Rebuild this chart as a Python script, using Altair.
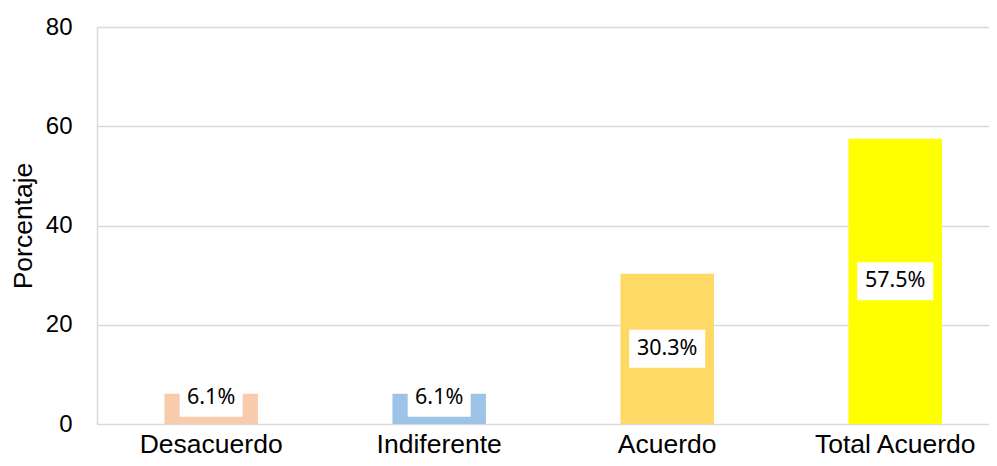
import altair as alt
import pandas as pd

categories = ["Desacuerdo", "Indiferente", "Acuerdo", "Total Acuerdo"]
values = [6.1, 6.1, 30.3, 57.5]
labels = ["6.1%", "6.1%", "30.3%", "57.5%"]
colors = ["#F8CBAD", "#9DC3E6", "#FFD966", "#FFFF00"]
y_ticks = [0, 20, 40, 60, 80]

df = pd.DataFrame({"cat": categories, "val": values, "label": labels})

xscale = alt.Scale(domain=categories, paddingInner=0.59, paddingOuter=0.251, align=0.589)
x = alt.X(
    "cat:N", scale=xscale, sort=categories,
    axis=alt.Axis(title=None, labelAngle=0, labelFont="Liberation Sans", labelFontSize=26.5,
                  labelColor="#000000", labelBaseline="alphabetic", labelPadding=28,
                  domain=False, ticks=False, grid=False),
)
yscale = alt.Scale(domain=[0, 80], nice=False)

base = alt.Chart(df)

bars = base.mark_bar().encode(
    x=x,
    y=alt.Y(
        "val:Q", scale=yscale,
        axis=alt.Axis(title="Porcentaje", values=y_ticks, labelFont="Liberation Sans",
                      labelFontSize=24, labelColor="#000000", labelPadding=25,
                      titleFont="Liberation Sans", titleFontSize=26.5, titleFontWeight="normal",
                      titleColor="#000000", titlePadding=8, ticks=False,
                      domain=True, domainColor="#D9D9D9", domainWidth=1.5,
                      grid=True, gridColor="#D9D9D9", gridWidth=1.5),
    ),
    color=alt.Color("cat:N", scale=alt.Scale(domain=categories, range=colors), legend=None),
)

boxes = base.transform_calculate(
    ylo="(datum.val / 2 < 5.3 ? 5.3 : datum.val / 2) - 3.83",
    yhi="(datum.val / 2 < 5.3 ? 5.3 : datum.val / 2) + 3.83",
    boxw="length(datum.label) * 13 + 11",
).mark_bar(color="white").encode(
    x=x,
    y=alt.Y("ylo:Q", scale=yscale),
    y2="yhi:Q",
    size=alt.Size("boxw:Q", scale=None, legend=None),
)

texts = base.transform_calculate(
    ypos="datum.val / 2 < 5.3 ? 5.3 : datum.val / 2",
).mark_text(font="Noto Sans", fontSize=21.5, color="#000000", baseline="middle", align="center").encode(
    x=x,
    y=alt.Y("ypos:Q", scale=yscale),
    text="label:N",
)

chart = alt.layer(bars, boxes, texts).properties(
    width=892, height=397,
    autosize=alt.AutoSizeParams(type="none"),
    padding={"left": 89, "top": 19, "right": 0, "bottom": 34},
).configure_view(stroke=None).configure(background="white")

chart.save("out.html", embed_options={"renderer": "svg", "actions": False})
